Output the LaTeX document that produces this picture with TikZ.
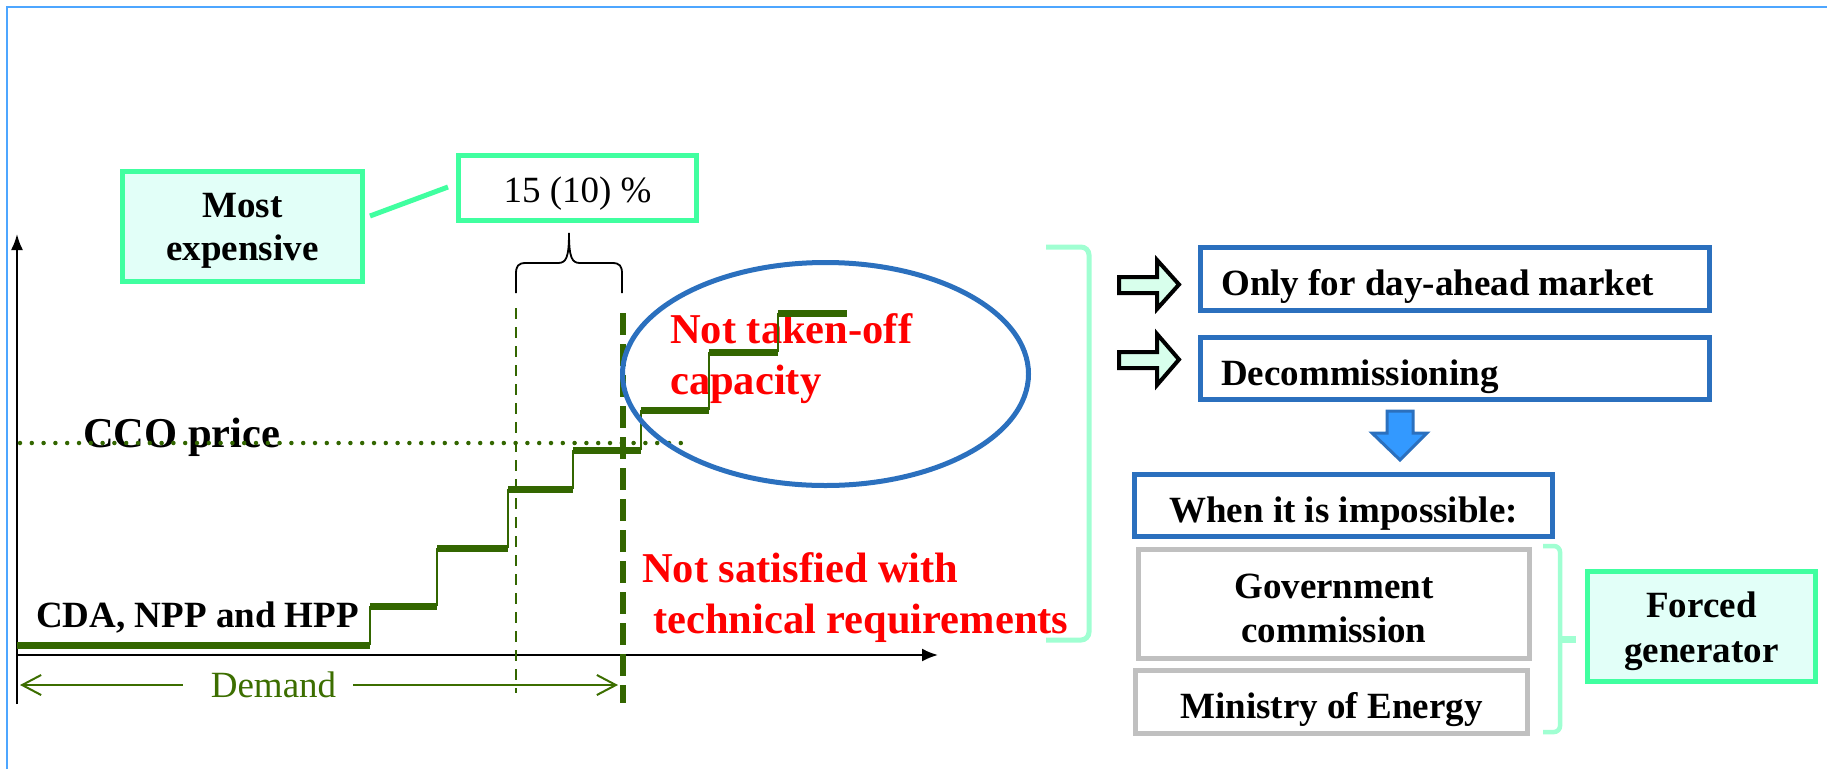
\documentclass[tikz,border=0pt]{standalone}
\usepackage{fontspec}
\setmainfont{Liberation Serif}
\usetikzlibrary{arrows.meta,calc}
\definecolor{framec}{RGB}{77,166,255}
\definecolor{tealc}{RGB}{64,255,160}
\definecolor{tealfill}{RGB}{226,255,248}
\definecolor{mintc}{RGB}{160,255,210}
\definecolor{bluec}{RGB}{43,112,190}
\definecolor{arrowblue}{RGB}{51,153,255}
\definecolor{grayc}{RGB}{192,192,192}
\definecolor{stepc}{RGB}{51,102,0}
\definecolor{demc}{RGB}{60,110,0}
\definecolor{blockfill}{RGB}{216,255,236}
\begin{document}
\begin{tikzpicture}[x=1pt,y=-1pt,
  bfont/.style={font=\fontsize{37}{45}\selectfont\bfseries, inner sep=0},
  nfont/.style={font=\fontsize{37}{45}\selectfont, inner sep=0},
  rfont/.style={font=\fontsize{42.5}{52}\selectfont\bfseries, text=red, inner sep=0, anchor=base west},
  tealbox/.style={draw=tealc, line width=5, fill=tealfill, inner sep=0},
  bluebox/.style={draw=bluec, line width=5, fill=white, inner sep=0},
  graybox/.style={draw=grayc, line width=5, fill=white, inner sep=0},
  hstep/.style={stepc, line width=7},
  vstep/.style={stepc, line width=2},
  blockarrow/.style={draw=black, line width=4, fill=blockfill, line join=miter},
  demline/.style={demc, line width=2},
]
\useasboundingbox (0,0) rectangle (1827,769);
% frame
\draw[framec, line width=2.5] (7,769) -- (7,7) -- (1827,7);

% boxes top left
\node[tealbox, minimum width=240, minimum height=110] (me) at (242.5,226.5) {};
\node[bfont, anchor=base] (me1) at (242.5,217) {Most};
\node[bfont, anchor=base] (me2) at (242.5,260) {expensive};
\node[tealbox, fill=white, minimum width=238, minimum height=65] (pct) at (577.5,188) {};
\node[nfont, anchor=base] (pcttx) at (577.5,202) {15 (10) \%};
\draw[tealc, line width=5] ($(me.east)+(5,-10.5)$) -- ($(pct.west)+(-8,-1)$);

% brace
\draw[line width=1.8] (516,293) -- (516,274) .. controls (516,266) and (518,263) .. (526,263) -- (558,263) .. controls (566,263) and (569,258) .. (569,233) .. controls (569,258) and (572,263) .. (580,263) -- (612,263) .. controls (620,263) and (622,266) .. (622,274) -- (622,293);

% axes
\coordinate (O) at (17,655);
\coordinate (Ytop) at (17,234);
\coordinate (Ybot) at (17,704);
\coordinate (Xend) at (938,655);
\draw[line width=2, -{Latex[length=16pt,width=12pt]}] (Ybot) -- (Ytop);
\draw[line width=2, -{Latex[length=16pt,width=13pt]}] (O) -- (Xend);

% texts
\node[bfont, anchor=base west] (cda) at (36,627) {CDA, NPP and HPP};
\node[font=\fontsize{42.5}{52}\selectfont\bfseries, inner sep=0, anchor=base west] (cco) at (83,447) {CCO price};
\node[rfont] (ntk1) at (670,343) {Not taken-off};
\node[rfont] (ntk2) at (670,394) {capacity};
\node[rfont] (ns1) at (642,582) {Not satisfied with};
\node[rfont] (ns2) at (653,633) {technical requirements};

% dotted CCO line
\draw[stepc, line width=4.5, line cap=round, dash pattern=on 0pt off 11.8pt] (20,443) -- (684,443);

% dashed verticals
\draw[stepc, line width=2, dash pattern=on 11pt off 8pt] (516,308) -- (516,693);
\draw[stepc, line width=5.5, dash pattern=on 22pt off 9pt] (623,313) -- (623,703);

% steps
\draw[hstep] (17,645) -- (370,645);
\draw[vstep] (370,645) -- (370,606);
\draw[hstep] (370,606) -- (437,606);
\draw[vstep] (437,606) -- (437,548);
\draw[hstep] (437,548) -- (508,548);
\draw[vstep] (508,548) -- (508,489);
\draw[hstep] (508,489) -- (573,489);
\draw[vstep] (573,489) -- (573,450);
\draw[hstep] (573,450) -- (641,450);
\draw[vstep] (641,450) -- (641,410);
\draw[hstep] (641,410) -- (709,410);
\draw[vstep] (709,410) -- (709,352);
\draw[hstep] (709,352) -- (778,352);
\draw[vstep] (778,352) -- (778,313);
\draw[hstep] (778,313) -- (847,313);

% ellipse
\draw[bluec, line width=5] (825.5,374) ellipse [x radius=203, y radius=111.5];

% demand
\node[nfont, text=demc, anchor=base] (dem) at (273.5,697) {Demand};
\coordinate (dL) at (20,685);
\coordinate (dR) at (618,685);
\draw[demline, -{Straight Barb[length=19pt,width=20pt]}] ($(dem.base west)+(-28,-12)$) -- (dL);
\draw[demline, -{Straight Barb[length=19pt,width=20pt]}] ($(dem.base east)+(17,-12)$) -- (dR);

% big bracket
\draw[mintc, line width=5, rounded corners=8] (1046,247) -- (1089,247) -- (1089,640) -- (1046,640);

% block arrows
\draw[blockarrow] (1119,277) -- (1157,277) -- (1157,260) -- (1179,284.5) -- (1157,309) -- (1157,293) -- (1119,293) -- cycle;
\draw[blockarrow] (1119,352) -- (1157,352) -- (1157,334) -- (1179,359.5) -- (1157,385) -- (1157,368) -- (1119,368) -- cycle;

% right boxes
\node[bluebox, minimum width=509, minimum height=63] (b1) at (1455,279) {};
\node[bfont, anchor=base west] (b1tx) at (1221,295) {Only for day-ahead market};
\node[bluebox, minimum width=509, minimum height=62] (b2) at (1455,368.5) {};
\node[bfont, anchor=base west] (b2tx) at (1221,385) {Decommissioning};
\draw[draw=bluec, line width=3, fill=arrowblue, line join=miter] (1387,411) -- (1413,411) -- (1413,433) -- (1427,433) -- (1400,460) -- (1372,433) -- (1387,433) -- cycle;
\node[bluebox, minimum width=418, minimum height=62] (b3) at (1343.5,505.5) {};
\node[bfont, anchor=base] (b3tx) at (1343.5,522) {When it is impossible:};
\node[graybox, minimum width=391, minimum height=109] (g1) at (1334,604) {};
\node[bfont, anchor=base] (g1a) at (1334,598) {Government};
\node[bfont, anchor=base] (g1b) at (1334,642) {commission};
\node[graybox, minimum width=392, minimum height=63] (g2) at (1331.5,702) {};
\node[bfont, anchor=base] (g2tx) at (1331.5,718) {Ministry of Energy};

% small bracket
\draw[mintc, line width=4.5, rounded corners=6] (1543,546) -- (1560,546) -- (1560,732) -- (1543,732);
\draw[mintc, line width=7] (1559,639) -- (1576,639);

\node[tealbox, minimum width=228, minimum height=110] (fg) at (1701.5,626.5) {};
\node[bfont, anchor=base] (fg1) at (1701.5,617) {Forced};
\node[bfont, anchor=base] (fg2) at (1701.5,662) {generator};
\end{tikzpicture}
\end{document}
